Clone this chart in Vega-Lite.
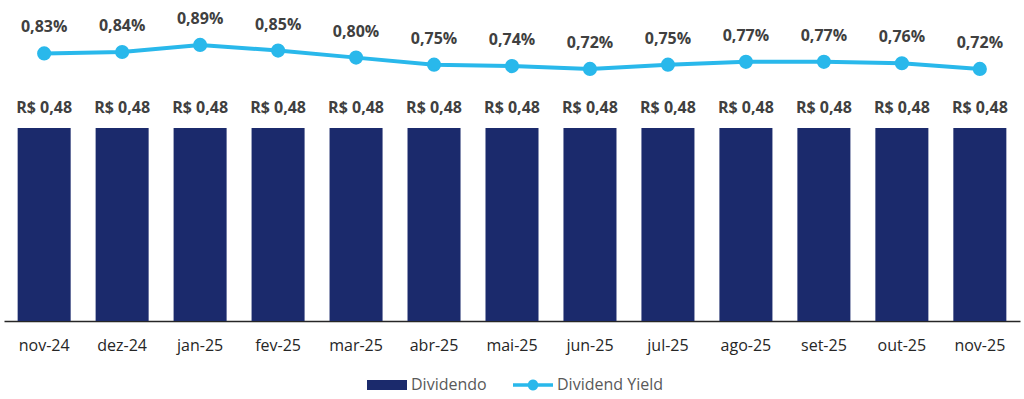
{
  "$schema": "https://vega.github.io/schema/vega-lite/v6.json",
  "width": 1016,
  "height": 321,
  "autosize": {"type": "none"},
  "padding": {"left": 4, "top": 0, "right": 4, "bottom": 78},
  "background": "white",
  "config": {
    "view": {"stroke": null},
    "font": "Open Sans"
  },
  "data": {
    "values": [
      {"mes": "nov-24", "dividendo": 0.48, "rotulo_div": "R$ 0,48", "yield": 0.83, "rotulo_yield": "0,83%"},
      {"mes": "dez-24", "dividendo": 0.48, "rotulo_div": "R$ 0,48", "yield": 0.84, "rotulo_yield": "0,84%"},
      {"mes": "jan-25", "dividendo": 0.48, "rotulo_div": "R$ 0,48", "yield": 0.89, "rotulo_yield": "0,89%"},
      {"mes": "fev-25", "dividendo": 0.48, "rotulo_div": "R$ 0,48", "yield": 0.85, "rotulo_yield": "0,85%"},
      {"mes": "mar-25", "dividendo": 0.48, "rotulo_div": "R$ 0,48", "yield": 0.80, "rotulo_yield": "0,80%"},
      {"mes": "abr-25", "dividendo": 0.48, "rotulo_div": "R$ 0,48", "yield": 0.75, "rotulo_yield": "0,75%"},
      {"mes": "mai-25", "dividendo": 0.48, "rotulo_div": "R$ 0,48", "yield": 0.74, "rotulo_yield": "0,74%"},
      {"mes": "jun-25", "dividendo": 0.48, "rotulo_div": "R$ 0,48", "yield": 0.72, "rotulo_yield": "0,72%"},
      {"mes": "jul-25", "dividendo": 0.48, "rotulo_div": "R$ 0,48", "yield": 0.75, "rotulo_yield": "0,75%"},
      {"mes": "ago-25", "dividendo": 0.48, "rotulo_div": "R$ 0,48", "yield": 0.77, "rotulo_yield": "0,77%"},
      {"mes": "set-25", "dividendo": 0.48, "rotulo_div": "R$ 0,48", "yield": 0.77, "rotulo_yield": "0,77%"},
      {"mes": "out-25", "dividendo": 0.48, "rotulo_div": "R$ 0,48", "yield": 0.76, "rotulo_yield": "0,76%"},
      {"mes": "nov-25", "dividendo": 0.48, "rotulo_div": "R$ 0,48", "yield": 0.72, "rotulo_yield": "0,72%"}
    ]
  },
  "encoding": {
    "x": {
      "field": "mes",
      "type": "ordinal",
      "sort": null,
      "scale": {"paddingInner": 0.32, "paddingOuter": 0.175},
      "axis": {
        "title": null,
        "ticks": false,
        "domainColor": "#262626",
        "domainWidth": 1.5,
        "labelAngle": 0,
        "labelFontSize": 16,
        "labelColor": "#262626",
        "labelPadding": 16,
        "labelFont": "Open Sans"
      }
    }
  },
  "layer": [
    {
      "layer": [
        {
          "mark": {"type": "bar", "color": "#1B2A6C"},
          "encoding": {
            "y": {"field": "dividendo", "type": "quantitative", "scale": {"domain": [0, 0.798]}, "axis": null},
            "color": {
              "datum": "Dividendo",
              "scale": {"domain": ["Dividendo", "Dividend Yield"], "range": ["#1B2A6C", "#29B8EB"]},
              "legend": {
                "orient": "none",
                "legendX": 363,
                "legendY": 365,
                "direction": "horizontal",
                "title": null,
                "labelFontSize": 16,
                "labelColor": "#595959",
                "labelFont": "Open Sans",
                "labelBaseline": "middle",
                "labelLimit": 200,
                "symbolSize": 1600,
                "symbolStrokeWidth": 0,
                "columnPadding": 26,
                "labelOffset": 4,
                "symbolOpacity": 1,
                "encode": {
                  "symbols": {
                    "update": {
                      "shape": {"signal": "datum.label == 'Dividendo' ? 'M-1,-0.25H1V0.25H-1Z' : 'M-1,-0.09H-0.25A0.26,0.26 0 0,1 0.25,-0.09H1V0.09H0.25A0.26,0.26 0 0,1 -0.25,0.09H-1Z'"},
                      "strokeWidth": {"value": 0}
                    }
                  }
                }
              }
            }
          }
        },
        {
          "mark": {"type": "text", "baseline": "middle", "dy": -20, "fontSize": 16, "fontWeight": "bold", "color": "#404040"},
          "encoding": {
            "y": {"field": "dividendo", "type": "quantitative", "scale": {"domain": [0, 0.798]}, "axis": null},
            "text": {"field": "rotulo_div"}
          }
        }
      ]
    },
    {
      "layer": [
        {
          "mark": {"type": "line", "strokeWidth": 4, "color": "#29B8EB"},
          "encoding": {
            "y": {"field": "yield", "type": "quantitative", "scale": {"domain": [-1.065, 1.208]}, "axis": null},
            "color": {"datum": "Dividend Yield"}
          }
        },
        {
          "mark": {"type": "point", "filled": true, "size": 200, "opacity": 1, "color": "#29B8EB"},
          "encoding": {
            "y": {"field": "yield", "type": "quantitative", "scale": {"domain": [-1.065, 1.208]}, "axis": null}
          }
        },
        {
          "mark": {"type": "text", "baseline": "middle", "dy": -26, "fontSize": 16, "fontWeight": "bold", "color": "#404040"},
          "encoding": {
            "y": {"field": "yield", "type": "quantitative", "scale": {"domain": [-1.065, 1.208]}, "axis": null},
            "text": {"field": "rotulo_yield"}
          }
        }
      ]
    }
  ],
  "resolve": {"scale": {"y": "independent"}}
}
